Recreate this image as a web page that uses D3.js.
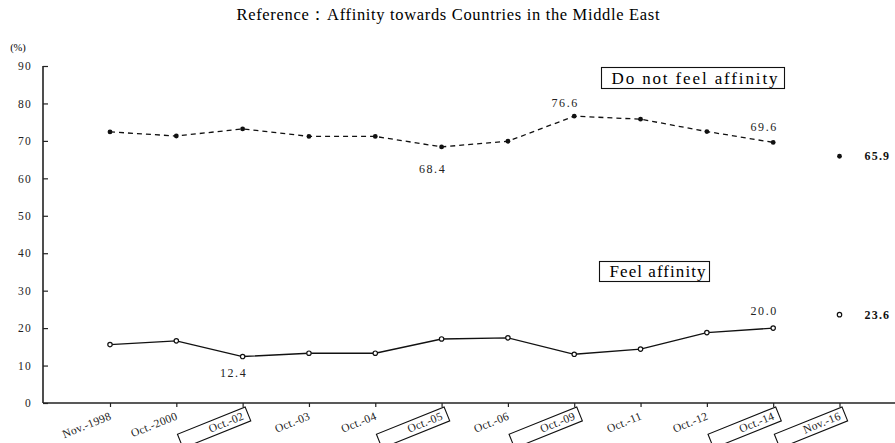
<!DOCTYPE html>
<html>
<head>
<meta charset="utf-8">
<script src="https://cdn.jsdelivr.net/npm/d3@7"></script>
<style>
  body { margin: 0; background: #fff; }
  svg { display: block; }
</style>
</head>
<body>
<svg id="chart" width="895" height="443"></svg>
<script>
// ---- data ----
const categories = ["Nov.-1998", "Oct.-2000", "Oct.-02", "Oct.-03", "Oct.-04", "Oct.-05",
                    "Oct.-06", "Oct.-09", "Oct.-11", "Oct.-12", "Oct.-14", "Nov.-16"];
const boxedCategories = ["Oct.-02", "Oct.-05", "Oct.-09", "Oct.-14", "Nov.-16"];
const notFeelAffinity = [72.4, 71.3, 73.2, 71.2, 71.2, 68.4, 69.9, 76.6, 75.8, 72.5, 69.6, 65.9];
const feelAffinity    = [15.6, 16.6, 12.4, 13.3, 13.3, 17.1, 17.4, 13.0, 14.4, 18.8, 20.0, 23.6];
const yTicks = [0, 10, 20, 30, 40, 50, 60, 70, 80, 90];
const lastIndex = 11; // separate survey point, not connected

const svg = d3.select("#chart");
const serif = "'Liberation Serif', 'Times New Roman', serif";

const x = d3.scalePoint().domain(categories).range([110, 839.5]);
const y = d3.scaleLinear().domain([0, 90]).range([403, 66]);
const axisLeft = 43, axisRight = 895;

// title
svg.append("text")
  .attr("x", 448).attr("y", 20)
  .attr("text-anchor", "middle")
  .attr("font-family", serif).attr("font-size", 16.5)
  .attr("textLength", 423).attr("lengthAdjust", "spacing")
  .text("Reference：Affinity towards Countries in the Middle East");

// (%)
svg.append("text")
  .attr("x", 18).attr("y", 51)
  .attr("text-anchor", "middle")
  .attr("font-family", serif).attr("font-size", 10.5)
  .text("(%)");

// y axis
const yAxis = d3.axisLeft(y).tickValues(yTicks).tickSize(-5).tickPadding(11).tickFormat(d3.format("d"));
const gy = svg.append("g").attr("transform", `translate(${axisLeft},0)`).call(yAxis);
gy.select(".domain").remove();
gy.selectAll(".tick line").attr("stroke", "#222").attr("stroke-width", 1.2);
gy.selectAll(".tick text").attr("font-family", serif).attr("font-size", 11.5)
  .attr("letter-spacing", 1.2).attr("fill", "#222");
svg.append("line").attr("x1", axisLeft).attr("x2", axisLeft).attr("y1", y(90)).attr("y2", y(0))
  .attr("stroke", "#222").attr("stroke-width", 1.6);

// x axis
const xAxis = d3.axisBottom(x).tickSize(4).tickFormat("");
const gx = svg.append("g").attr("transform", `translate(0,${y(0)})`).call(xAxis);
gx.select(".domain").remove();
gx.selectAll(".tick line").attr("stroke", "#222").attr("stroke-width", 1.2);
svg.append("line").attr("x1", axisLeft).attr("x2", axisRight).attr("y1", y(0)).attr("y2", y(0))
  .attr("stroke", "#222").attr("stroke-width", 1.6);

// x labels, rotated
const angle = -22;
const xl = svg.append("g").selectAll("g").data(categories).join("g")
  .attr("transform", d => `translate(${x(d) + 2},${y(0) + 16}) rotate(${angle})`);
xl.filter(d => boxedCategories.includes(d)).append("rect")
  .attr("x", -68).attr("y", -11).attr("width", 73).attr("height", 15)
  .attr("fill", "white").attr("stroke", "#111").attr("stroke-width", 1.1);
xl.append("text")
  .attr("text-anchor", "end")
  .attr("font-family", serif).attr("font-size", 11.5)
  .attr("letter-spacing", 0.3)
  .attr("fill", "#222")
  .text(d => d);

// lines (exclude last separate survey point)
const line = d3.line().x((d, i) => x(categories[i])).y(d => y(d));
svg.append("path").datum(notFeelAffinity.slice(0, lastIndex))
  .attr("d", line).attr("fill", "none").attr("stroke", "#111")
  .attr("stroke-width", 1.3).attr("stroke-dasharray", "5,4");
svg.append("path").datum(feelAffinity.slice(0, lastIndex))
  .attr("d", line).attr("fill", "none").attr("stroke", "#111")
  .attr("stroke-width", 1.4);

// markers
svg.append("g").selectAll("circle").data(notFeelAffinity).join("circle")
  .attr("cx", (d, i) => x(categories[i])).attr("cy", d => y(d)).attr("r", 2.4)
  .attr("fill", "#111");
svg.append("g").selectAll("circle").data(feelAffinity).join("circle")
  .attr("cx", (d, i) => x(categories[i])).attr("cy", d => y(d)).attr("r", 2.2)
  .attr("fill", "white").attr("stroke", "#111").attr("stroke-width", 1.2);

// data labels
function label(val, i, dy) {
  svg.append("text")
    .attr("x", x(categories[i]) - 9).attr("y", y(val) + dy)
    .attr("text-anchor", "middle")
    .attr("font-family", serif).attr("font-size", 12)
    .attr("letter-spacing", 1.6).attr("fill", "#222")
    .text(d3.format(".1f")(val));
}
label(notFeelAffinity[5], 5, 26);
label(notFeelAffinity[7], 7, -9);
label(notFeelAffinity[10], 10, -11);
label(feelAffinity[2], 2, 20);
label(feelAffinity[10], 10, -13);

// bold labels for last separate point
[notFeelAffinity, feelAffinity].forEach(s => {
  svg.append("text")
    .attr("x", x(categories[lastIndex]) + 25).attr("y", y(s[lastIndex]) + 4)
    .attr("font-family", serif).attr("font-size", 12).attr("font-weight", "bold")
    .attr("letter-spacing", 1.2)
    .attr("fill", "#111")
    .text(d3.format(".1f")(s[lastIndex]));
});

// legend boxes
function legendBox(x0, y0, w, h, txt, tl) {
  svg.append("rect").attr("x", x0).attr("y", y0).attr("width", w).attr("height", h)
    .attr("fill", "white").attr("stroke", "#111").attr("stroke-width", 1.1);
  svg.append("text").attr("x", x0 + 10).attr("y", y0 + h - 5)
    .attr("font-family", serif).attr("font-size", 17)
    .attr("textLength", tl).attr("lengthAdjust", "spacing")
    .text(txt);
}
legendBox(601.5, 67.5, 183, 21, "Do not  feel affinity", 166);
legendBox(599.5, 261.5, 110, 20, "Feel affinity", 96);
</script>
</body>
</html>
